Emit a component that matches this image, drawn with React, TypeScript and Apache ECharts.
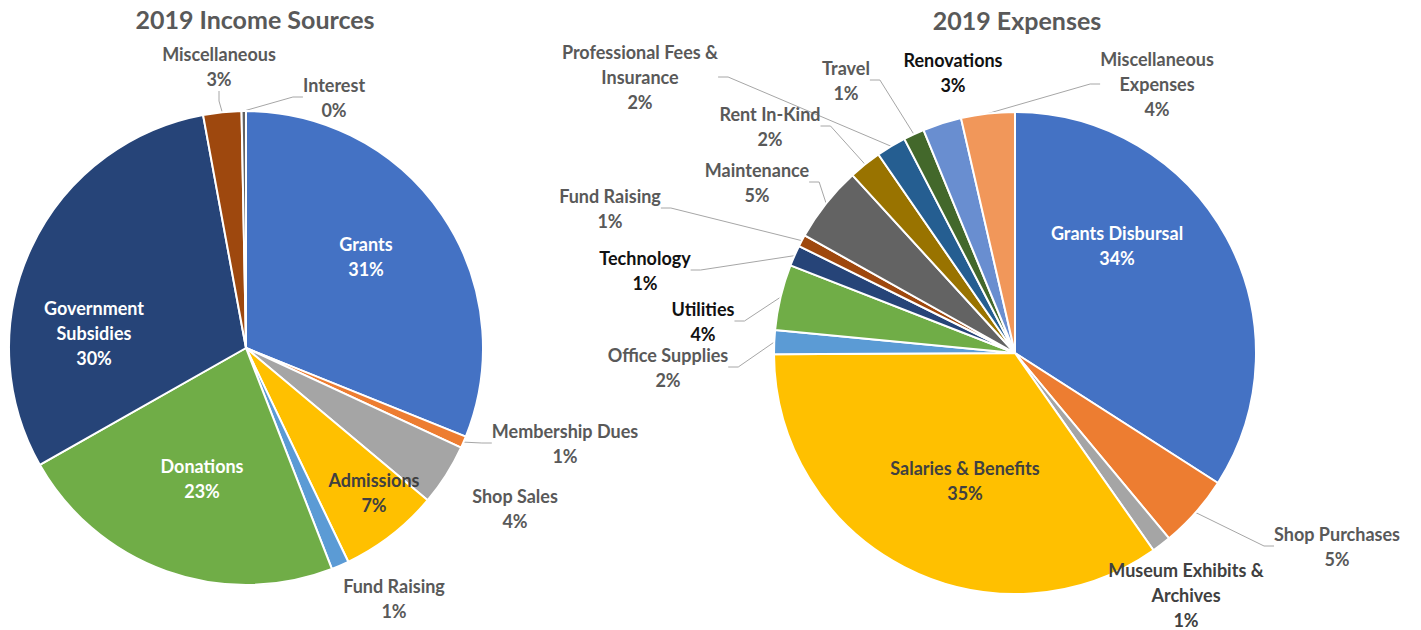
import React, { useEffect, useRef } from "react";
import * as echarts from "echarts";

// ---- data ----
const titles = ["2019 Income Sources", "2019 Expenses"];

const incomeCategories = [
  "Grants",
  "Membership Dues",
  "Shop Sales",
  "Admissions",
  "Fund Raising",
  "Donations",
  "Government\nSubsidies",
  "Miscellaneous",
  "Interest",
];
const incomeValues = [31.1, 0.8, 4.2, 6.8, 1.2, 22.7, 30.3, 2.6, 0.3];

const expenseCategories = [
  "Grants Disbursal",
  "Shop Purchases",
  "Museum Exhibits &\nArchives",
  "Salaries & Benefits",
  "Office Supplies",
  "Utilities",
  "Technology",
  "Fund Raising",
  "Maintenance",
  "Rent In-Kind",
  "Professional Fees &\nInsurance",
  "Travel",
  "Renovations",
  "Miscellaneous\nExpenses",
];
const expenseValues = [34.1, 4.9, 1.3, 34.7, 1.6, 4.4, 1.4, 0.8, 5.1, 2.2, 2.0, 1.4, 2.6, 3.6];

// ---- styles / layout ----
const FONT = "Lato, 'Open Sans', sans-serif";
const GRAY = "#595959";
const LINE = "#A6A6A6";

const incomeColors = ["#4472C4", "#ED7D31", "#A5A5A5", "#FFC000", "#5B9BD5", "#70AD47", "#264478", "#9E480E", "#636363"];
const incomeLabelPos: number[][] = [
  [366, 256], [565, 443], [515, 508], [374, 492], [394, 598], [202, 478], [94, 333], [219, 66], [334, 97],
];
const incomeLabelColor = ["#fff", GRAY, GRAY, "#404040", GRAY, "#fff", "#fff", GRAY, GRAY];
const incomeLine = [false, true, false, false, false, false, false, true, true];

const expenseColors = ["#4472C4", "#ED7D31", "#A5A5A5", "#FFC000", "#5B9BD5", "#70AD47", "#264478", "#9E480E", "#636363", "#997300", "#255E91", "#43682B", "#698ED0", "#F1975A"];
const expenseLabelPos: number[][] = [
  [1117, 245], [1337, 546], [1186, 595], [965, 480], [668, 367], [703, 321], [645, 270], [610, 208], [757, 182], [770, 126], [640, 77], [846, 80], [953, 72], [1157, 84],
];
const expenseLabelColor = ["#fff", GRAY, "#404040", "#404040", GRAY, "#111", "#111", GRAY, GRAY, GRAY, GRAY, GRAY, "#111", GRAY];
const expenseLine = [false, true, false, false, true, true, true, true, true, true, true, true, false, true];

function buildData(cats: string[], vals: number[], colors: string[], labelColors: string[], lines: boolean[]) {
  return cats.map((name, i) => ({
    name,
    value: vals[i],
    itemStyle: { color: colors[i] },
    label: { color: labelColors[i] },
    labelLine: { show: lines[i] },
  }));
}

export default function App() {
  const ref = useRef<HTMLDivElement>(null);
  useEffect(() => {
    document.body.style.margin = "0";
    const chart = echarts.init(ref.current!, null, { renderer: "svg" });
    const positions = [incomeLabelPos, expenseLabelPos];
    const common = {
      type: "pie",
      startAngle: 90,
      clockwise: true,
      avoidLabelOverlap: false,
      itemStyle: { borderColor: "#fff", borderWidth: 2 },
      label: {
        show: true,
        position: "outside",
        formatter: (p: any) => `${p.name}\n${Math.round(p.percent)}%`,
        fontFamily: FONT,
        fontWeight: "bold",
        fontSize: 18,
        lineHeight: 25,
        align: "center",
      },
      labelLine: { show: true, length: 10, length2: 10, lineStyle: { color: LINE, width: 1 } },
      emphasis: { disabled: true },
      labelLayout: (params: any) => {
        const pos = positions[params.seriesIndex][params.dataIndex];
        return { x: pos[0], y: pos[1], align: "center", verticalAlign: "middle" };
      },
    };
    chart.setOption({
      animation: false,
      graphic: [
        {
          type: "text",
          x: 255,
          y: 19,
          style: { text: titles[0], fill: GRAY, font: `bold 25px ${FONT}`, textAlign: "center", textVerticalAlign: "middle" },
        },
        {
          type: "text",
          x: 1017,
          y: 20,
          style: { text: titles[1], fill: GRAY, font: `bold 25px ${FONT}`, textAlign: "center", textVerticalAlign: "middle" },
        },
      ],
      series: [
        {
          ...common,
          name: titles[0],
          center: [246, 348],
          radius: [0, 237],
          data: buildData(incomeCategories, incomeValues, incomeColors, incomeLabelColor, incomeLine),
        },
        {
          ...common,
          name: titles[1],
          center: [1015, 353],
          radius: [0, 241],
          data: buildData(expenseCategories, expenseValues, expenseColors, expenseLabelColor, expenseLine),
        },
      ],
    });
    return () => chart.dispose();
  }, []);
  return <div ref={ref} style={{ width: 1421, height: 630 }} />;
}
